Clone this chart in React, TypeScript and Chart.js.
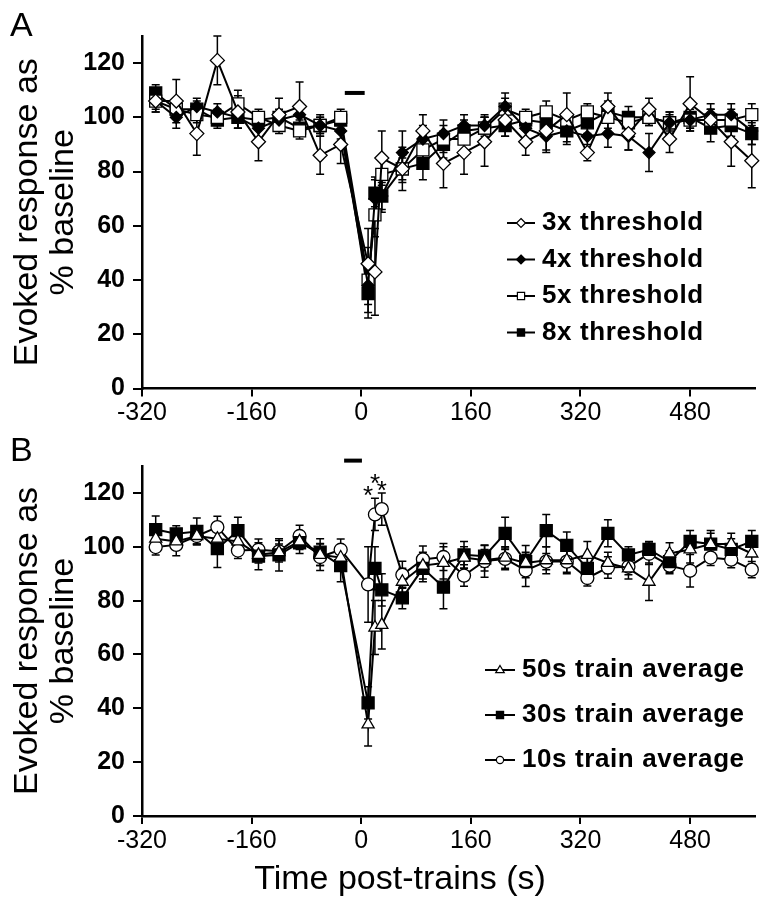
import React, { useEffect, useRef } from 'react';
import { Chart, registerables } from 'chart.js';

Chart.register(...registerables);

const FONT = '"Liberation Sans", Arial, Helvetica, sans-serif';

// ---------- Panel A data (time in s, response in % baseline, SEM) ----------
const timesA = [-300, -270, -240, -210, -180, -150, -120, -90, -60, -30, 10, 20, 30, 60, 90, 120, 150, 180, 210, 240, 270, 300, 330, 360, 390, 420, 450, 480, 510, 540, 570];
const thr3 = [106, 106, 94, 121, 102, 91, 101, 104, 86, 90, 46, 43, 85, 81, 95, 83, 87, 91, 99, 91, 95, 101, 87, 104, 94, 103, 92, 105, 99, 91, 84];
const thr3Err = [4, 8, 8, 9, 6, 7, 6, 9, 7, 7, 13, 16, 10, 8, 6, 9, 8, 9, 6, 5, 8, 8, 3, 5, 6, 4, 5, 10, 4, 9, 10];
const thr4 = [106, 100, 104, 102, 100, 96, 99, 101, 97, 95, 38, 70, 71, 87, 92, 94, 97, 97, 104, 96, 93, 95, 93, 94, 93, 87, 98, 99, 101, 101, 95];
const thr4Err = [3, 4, 3, 3, 4, 4, 3, 3, 4, 3, 7, 8, 6, 8, 5, 5, 4, 4, 5, 6, 5, 5, 5, 5, 5, 7, 4, 4, 4, 4, 5];
const thr5 = [106, 103, 101, 100, 105, 100, 97, 95, 97, 100, 40, 64, 79, 81, 88, 92, 92, 96, 103, 100, 102, 99, 102, 100, 98, 100, 98, 99, 99, 99, 101];
const thr5Err = [4, 3, 3, 3, 5, 3, 3, 3, 3, 3, 12, 8, 6, 5, 5, 5, 5, 4, 4, 3, 4, 3, 3, 4, 3, 3, 3, 3, 4, 4, 4];
const thr8 = [109, 103, 103, 99, 100, 99, 100, 96, 97, 99, 35, 72, 71, 81, 83, 90, 95, 96, 97, 99, 98, 95, 98, 102, 100, 100, 98, 100, 96, 97, 94];
const thr8Err = [3, 3, 3, 3, 4, 3, 3, 3, 3, 3, 9, 5, 5, 4, 6, 5, 4, 4, 4, 3, 4, 4, 4, 4, 4, 3, 4, 4, 5, 4, 4];
const trainBarA = [-24, 5];
const trainBarALevel = 109;

// ---------- Panel B data ----------
const timesB = [-300, -270, -240, -210, -180, -150, -120, -90, -60, -30, 10, 20, 30, 60, 90, 120, 150, 180, 210, 240, 270, 300, 330, 360, 390, 420, 450, 480, 510, 540, 570];
const train50 = [103, 102, 104, 103, 102, 97, 98, 102, 97, 96, 34, 70, 71, 87, 93, 94, 96, 95, 96, 94, 95, 95, 97, 94, 92, 87, 97.5, 99, 101, 101, 97.5];
const train50Err = [4, 3, 3, 3, 4, 3, 3, 3, 4, 3, 8, 10, 9, 5, 5, 6, 4, 4, 4, 4, 5, 5, 5, 4, 4, 7, 4, 5, 4, 4, 4];
const train30 = [106.4, 104.8, 105.7, 99.3, 106, 96.5, 97, 101.5, 98, 93, 42, 92, 84, 81, 92, 85, 97, 96.5, 105, 94.5, 106, 100.5, 92, 105, 97, 99, 94.5, 102, 101, 99, 102];
const train30Err = [5, 3, 5, 7, 5, 5, 6, 4, 5, 6, 6, 8, 6, 4, 5, 8, 5, 4, 6, 6, 6, 5, 5, 5, 3, 3, 4, 4, 5, 4, 4];
const train10 = [99.9, 100.7, 104, 107.3, 98.6, 98.9, 98.3, 104, 96.2, 98.9, 86, 112, 114, 89.6, 95.3, 96.2, 89.3, 94.7, 95.5, 91.2, 94.5, 94.5, 88.4, 92.3, 92.6, 97.4, 93, 91.1, 96, 95.2, 91.5];
const train10Err = [3, 4, 3, 4, 3, 4, 4, 4, 5, 4, 14, 6, 6, 5, 5, 5, 4, 6, 4, 6, 3, 4, 3, 4, 3, 4, 3, 6, 3, 3, 3];
const trainBarB = [-25, 1];
const trainBarBLevel = 132;
const starTimes = [10, 20, 30];
const starLevels = [121.5, 126, 123.5];

// ---------- Axes ----------
const xTicks = [-320, -160, 0, 160, 320, 480];
const yTicks = [0, 20, 40, 60, 80, 100, 120];
const xMin = -320;
const xMax = 575;
const yMin = 0;
const yMax = 130;

function drawMarker(ctx: any, style: string, x: number, y: number, s: number, fill: string) {
  ctx.beginPath();
  if (style === 'rectRot') {
    ctx.moveTo(x, y - s);
    ctx.lineTo(x + s, y);
    ctx.lineTo(x, y + s);
    ctx.lineTo(x - s, y);
    ctx.closePath();
  } else if (style === 'rect') {
    const h = s * 0.8;
    ctx.rect(x - h, y - h, 2 * h, 2 * h);
  } else if (style === 'triangle') {
    ctx.moveTo(x, y - s);
    ctx.lineTo(x + s * 0.95, y + s * 0.6);
    ctx.lineTo(x - s * 0.95, y + s * 0.6);
    ctx.closePath();
  } else {
    ctx.arc(x, y, s * 0.8, 0, Math.PI * 2);
  }
  ctx.fillStyle = fill;
  ctx.fill();
  ctx.lineWidth = 1.2;
  ctx.strokeStyle = '#000';
  ctx.stroke();
}

const errorBarPlugin = {
  id: 'errorBars',
  beforeDatasetsDraw(chart: any) {
    const ctx = chart.ctx;
    const xs = chart.scales.x;
    const ys = chart.scales.y;
    ctx.save();
    ctx.strokeStyle = '#000';
    ctx.lineWidth = 1.5;
    chart.data.datasets.forEach((ds: any) => {
      const errs = ds.errors;
      if (!errs) return;
      ds.data.forEach((p: any, j: number) => {
        const e = errs[j];
        if (!e) return;
        const px = xs.getPixelForValue(p.x);
        const top = ys.getPixelForValue(p.y + e);
        const bot = ys.getPixelForValue(p.y - e);
        ctx.beginPath();
        ctx.moveTo(px, top);
        ctx.lineTo(px, bot);
        ctx.moveTo(px - 4, top);
        ctx.lineTo(px + 4, top);
        ctx.moveTo(px - 4, bot);
        ctx.lineTo(px + 4, bot);
        ctx.stroke();
      });
    });
    ctx.restore();
  },
};

const sketchLegend = {
  id: 'sketchLegend',
  afterDraw(chart: any, _args: any, opts: any) {
    if (!opts || !opts.items) return;
    const ctx = chart.ctx;
    ctx.save();
    opts.items.forEach((idx: number, k: number) => {
      const ds = chart.data.datasets[idx];
      const y = opts.y + k * opts.gap;
      ctx.strokeStyle = '#000';
      ctx.lineWidth = 2;
      ctx.beginPath();
      ctx.moveTo(opts.x, y);
      ctx.lineTo(opts.x + opts.lineLen, y);
      ctx.stroke();
      drawMarker(ctx, ds.pointStyle, opts.x + opts.lineLen / 2, y, opts.markerSize, ds.pointBackgroundColor);
      ctx.fillStyle = '#000';
      ctx.font = `bold ${opts.fontSize}px ${FONT}`;
      ctx.textBaseline = 'middle';
      ctx.textAlign = 'left';
      (ctx as any).letterSpacing = opts.letterSpacing || '0px';
      ctx.fillText(ds.label, opts.x + opts.lineLen + opts.textGap, y);
      (ctx as any).letterSpacing = '0px';
    });
    ctx.restore();
  },
};

const sketchText = {
  id: 'sketchText',
  afterDraw(chart: any, _args: any, opts: any) {
    if (!opts) return;
    const ctx = chart.ctx;
    ctx.save();
    ctx.fillStyle = '#000';
    if (opts.panel) {
      ctx.font = `34px ${FONT}`;
      ctx.textAlign = 'left';
      ctx.textBaseline = 'alphabetic';
      ctx.fillText(opts.panel, opts.panelX, opts.panelY);
    }
    if (opts.xTitle) {
      ctx.font = `34px ${FONT}`;
      ctx.textAlign = 'center';
      ctx.textBaseline = 'middle';
      ctx.fillText(opts.xTitle, opts.xTitleX, opts.xTitleY);
    }
    if (opts.starTimes) {
      const xs = chart.scales.x;
      const ys = chart.scales.y;
      ctx.font = `26px ${FONT}`;
      ctx.textAlign = 'center';
      ctx.textBaseline = 'alphabetic';
      opts.starTimes.forEach((t: number, i: number) => {
        ctx.fillText('*', xs.getPixelForValue(t), ys.getPixelForValue(opts.starLevels[i]) + 15);
      });
    }
    ctx.restore();
  },
};

function series(label: string, times: number[], values: number[], errs: number[], style: string, fill: string, radius: number) {
  return {
    label,
    data: times.map((t, i) => ({ x: t, y: values[i] })),
    errors: errs,
    borderColor: '#000',
    borderWidth: 2,
    pointStyle: style,
    pointBackgroundColor: fill,
    pointBorderColor: '#000',
    pointBorderWidth: 1.3,
    pointRadius: radius,
    showLine: true,
    tension: 0,
    clip: false,
  };
}

function trainBar(span: number[], level: number) {
  return {
    label: 'train',
    data: span.map((t) => ({ x: t, y: level })),
    borderColor: '#000',
    borderWidth: 4,
    pointRadius: 0,
    showLine: true,
    clip: false,
  };
}

function scalesFor(yWidth: number, xHeight: number) {
  return {
    x: {
      type: 'linear',
      min: xMin,
      max: xMax,
      afterBuildTicks: (s: any) => {
        s.ticks = xTicks.map((v) => ({ value: v }));
      },
      afterFit: (s: any) => {
        s.height = xHeight;
      },
      grid: { display: true, drawOnChartArea: false, drawTicks: true, tickLength: 8, color: '#000', lineWidth: 2 },
      border: { display: true, color: '#000', width: 2.5 },
      ticks: { color: '#000', font: { family: FONT, size: 25 }, padding: 2, maxRotation: 0, autoSkip: false },
    },
    y: {
      type: 'linear',
      min: yMin,
      max: yMax,
      afterBuildTicks: (s: any) => {
        s.ticks = yTicks.map((v) => ({ value: v }));
      },
      afterFit: (s: any) => {
        s.width = yWidth;
      },
      grid: { display: true, drawOnChartArea: false, drawTicks: true, tickLength: 9, color: '#000', lineWidth: 2 },
      border: { display: true, color: '#000', width: 2.5 },
      ticks: { color: '#000', font: { family: FONT, size: 25, weight: 'bold' }, padding: 8 },
      title: {
        display: true,
        text: ['Evoked response as', '% baseline'],
        color: '#000',
        font: { family: FONT, size: 34, lineHeight: 1.05 },
        padding: { top: 10, bottom: 0 },
      },
    },
  };
}

function PanelA() {
  const ref = useRef<HTMLCanvasElement>(null);
  useEffect(() => {
    const chart = new Chart(ref.current as HTMLCanvasElement, {
      type: 'line',
      data: {
        datasets: [
          series('3x threshold', timesA, thr3, thr3Err, 'rectRot', '#ffffff', 7),
          series('4x threshold', timesA, thr4, thr4Err, 'rectRot', '#000000', 6),
          series('5x threshold', timesA, thr5, thr5Err, 'rect', '#ffffff', 8.5),
          series('8x threshold', timesA, thr8, thr8Err, 'rect', '#000000', 8.5),
          trainBar(trainBarA, trainBarALevel),
        ] as any,
      },
      options: {
        responsive: false,
        animation: false,
        layout: { padding: { top: 36, right: 0, left: 0, bottom: 0 } },
        plugins: {
          legend: { display: false },
          tooltip: { enabled: false },
          sketchLegend: { items: [0, 1, 2, 3], x: 507, y: 223, gap: 36.5, lineLen: 28, textGap: 7, fontSize: 26, markerSize: 4.5, letterSpacing: '0.6px' },
          sketchText: { panel: 'A', panelX: 10, panelY: 36 },
        } as any,
        scales: scalesFor(142, 36.5) as any,
      },
      plugins: [errorBarPlugin, sketchLegend, sketchText],
    });
    return () => chart.destroy();
  }, []);
  return <canvas ref={ref} width={765} height={425} style={{ position: 'absolute', left: 0, top: 0 }} />;
}

function PanelB() {
  const ref = useRef<HTMLCanvasElement>(null);
  useEffect(() => {
    const chart = new Chart(ref.current as HTMLCanvasElement, {
      type: 'line',
      data: {
        datasets: [
          series('50s train average', timesB, train50, train50Err, 'triangle', '#ffffff', 7),
          series('30s train average', timesB, train30, train30Err, 'rect', '#000000', 8.5),
          series('10s train average', timesB, train10, train10Err, 'circle', '#ffffff', 6.5),
          trainBar(trainBarB, trainBarBLevel),
        ] as any,
      },
      options: {
        responsive: false,
        animation: false,
        layout: { padding: { top: 41, right: 0, left: 0, bottom: 0 } },
        plugins: {
          legend: { display: false },
          tooltip: { enabled: false },
          sketchLegend: { items: [0, 1, 2], x: 485, y: 245, gap: 45, lineLen: 30, textGap: 7, fontSize: 26, markerSize: 4.5, letterSpacing: '0.6px' },
          sketchText: { panel: 'B', panelX: 10, panelY: 36, xTitle: 'Time post-trains (s)', xTitleX: 400, xTitleY: 455, starTimes, starLevels },
        } as any,
        scales: scalesFor(142, 97) as any,
      },
      plugins: [errorBarPlugin, sketchLegend, sketchText],
    });
    return () => chart.destroy();
  }, []);
  return <canvas ref={ref} width={765} height={488} style={{ position: 'absolute', left: 0, top: 425 }} />;
}

export default function App() {
  return (
    <div style={{ position: 'absolute', left: 0, top: 0, width: 765, height: 913, background: '#ffffff', overflow: 'hidden' }}>
      <PanelA />
      <PanelB />
    </div>
  );
}
